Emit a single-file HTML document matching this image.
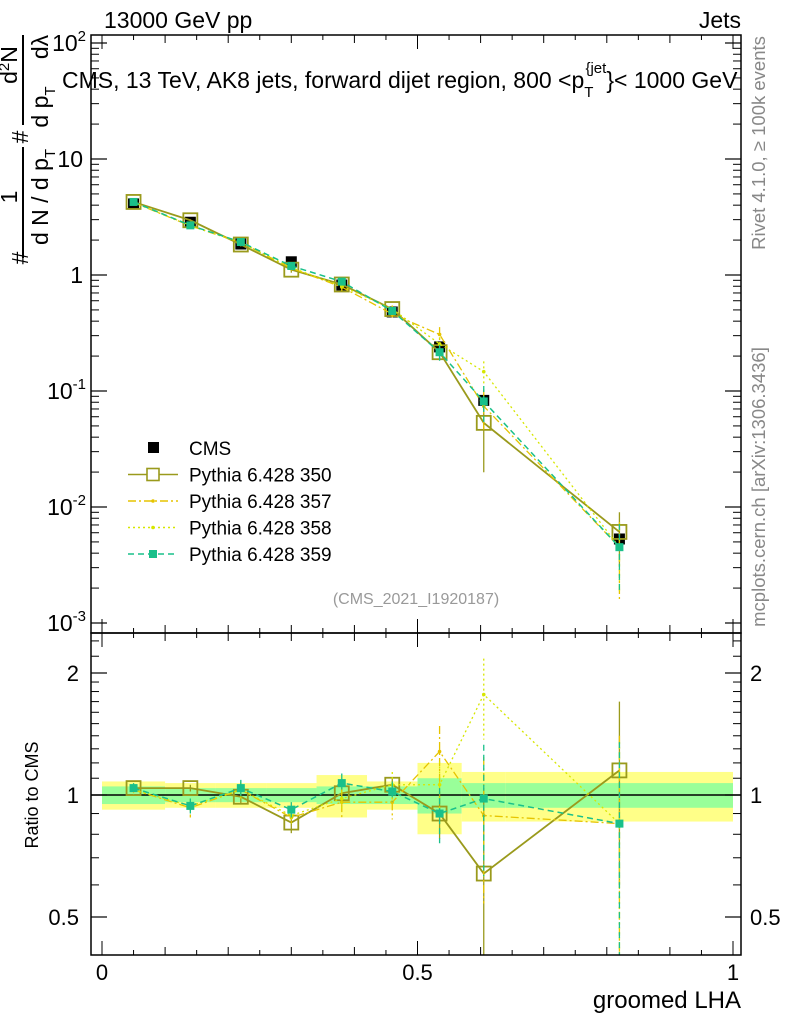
<!DOCTYPE html>
<html><head><meta charset="utf-8">
<style>
body{margin:0;background:#fff;}
svg{display:block;font-family:"Liberation Sans",sans-serif;}
</style></head>
<body>
<svg id="chart" width="786" height="1024" viewBox="0 0 786 1024">
<defs>
<clipPath id="cm"><rect x="91" y="35" width="650" height="598"/></clipPath>
<clipPath id="cr"><rect x="91" y="633" width="650" height="322"/></clipPath>
</defs>
<g id="bands" clip-path="url(#cr)"></g>
<g id="main" clip-path="url(#cm)"></g>
<g id="ratio" clip-path="url(#cr)"></g>
<g id="axes"></g>
<text x="104" y="28" font-size="23">13000 GeV pp</text>
<text x="741" y="28" font-size="23" text-anchor="end">Jets</text>
<text x="62" y="88" font-size="23">CMS, 13 TeV, AK8 jets, forward dijet region, 800 &lt;p<tspan font-size="15" dy="9">T</tspan><tspan font-size="15" dy="-24" dx="-8">{jet</tspan><tspan dy="15">}&lt; 1000 GeV</tspan></text>
<g font-size="23">
<text transform="translate(28,258) rotate(-90)" text-anchor="middle">#</text>
<text transform="translate(17,197) rotate(-90)" text-anchor="middle">1</text>
<line x1="23" y1="258" x2="23" y2="147" stroke="#000" stroke-width="2"/>
<text transform="translate(48,197) rotate(-90)" text-anchor="middle">d N / d p<tspan font-size="15" dy="7">T</tspan></text>
<text transform="translate(28,137) rotate(-90)" text-anchor="middle">#</text>
<line x1="23" y1="125" x2="23" y2="35" stroke="#000" stroke-width="2"/>
<text transform="translate(48,107) rotate(-90)" text-anchor="middle">d p<tspan font-size="15" dy="7">T</tspan></text>
<text transform="translate(17,65) rotate(-90)" text-anchor="middle">d<tspan font-size="15" dy="-8">2</tspan><tspan dy="8">N</tspan></text>
<text transform="translate(48,47) rotate(-90)" text-anchor="middle">dλ</text>
</g>
<text transform="translate(38,795) rotate(-90)" font-size="18" text-anchor="middle">Ratio to CMS</text>
<text x="741" y="1008" font-size="24" text-anchor="end">groomed LHA</text>
<text transform="translate(765,143) rotate(-90)" font-size="18.5" fill="#888" text-anchor="middle">Rivet 4.1.0, ≥ 100k events</text>
<text transform="translate(765,487) rotate(-90)" font-size="18.5" fill="#888" text-anchor="middle">mcplots.cern.ch [arXiv:1306.3436]</text>
<text x="416" y="604" font-size="16" fill="#999" text-anchor="middle">(CMS_2021_I1920187)</text>
<g id="legend"></g>
</svg>
<script>
const binEdges=[0,0.1,0.18,0.26,0.34,0.42,0.5,0.57,0.64,1.0];
const cmsValues=[4.1,2.85,1.85,1.3,0.82,0.48,0.24,0.083,0.0053];
const bandYellow=[0.08,0.07,0.07,0.07,0.12,0.08,0.2,0.14,0.14];
const bandGreen=[0.05,0.04,0.04,0.04,0.05,0.05,0.1,0.07,0.07];
const ratio350=[1.04,1.04,0.99,0.855,1.01,1.06,0.90,0.64,1.15];
const ratio357=[1.03,0.93,1.03,0.88,0.96,0.96,1.28,0.89,0.85];
const ratio358=[1.03,0.94,1.03,0.89,0.98,1.06,1.06,1.77,0.85];
const ratio359=[1.04,0.94,1.04,0.92,1.07,1.02,0.90,0.98,0.85];
const err350=[0.02,0.02,0.04,0.05,0.03,0.04,0.12,0.4,0.55];
const err357=[0.03,0.05,0.05,0.04,0.08,0.09,0.2,0.35,0.55];
const err358=[0.03,0.04,0.05,0.04,0.07,0.08,0.15,0.4,0.5];
const err359=[0.03,0.04,0.05,0.04,0.06,0.06,0.14,0.35,0.5];
const mainTicks=[2,1,0,-1,-2,-3];
const ratioTicks=[0.5,1,2];
const xTicks=[0,0.5,1];

const NS="http://www.w3.org/2000/svg";
const X=v=>102+v*631;
const Ym=v=>43+(2-Math.log10(v))*116;
const Yr=v=>795-Math.log2(v)*122;
function mk(p,tag,a){const e=document.createElementNS(NS,tag);for(const k in a)e.setAttribute(k,a[k]);p.appendChild(e);return e;}
const gMain=document.getElementById('main'),gRatio=document.getElementById('ratio'),gBands=document.getElementById('bands'),gAx=document.getElementById('axes'),gLeg=document.getElementById('legend');
const centers=cmsValues.map((_,i)=>(binEdges[i]+binEdges[i+1])/2);

cmsValues.forEach((_,i)=>{
 const x0=X(binEdges[i]),x1=X(binEdges[i+1]);
 let r=mk(gBands,'rect',{x:x0,y:Yr(1+bandYellow[i]),width:x1-x0,height:Yr(1-bandYellow[i])-Yr(1+bandYellow[i]),fill:'#ffff88'});
 
 
 r=mk(gBands,'rect',{x:x0,y:Yr(1+bandGreen[i]),width:x1-x0,height:Yr(1-bandGreen[i])-Yr(1+bandGreen[i]),fill:'#99ff99'});
 
 
});
let l=mk(gRatio,'line',{x1:91,x2:741,y1:Yr(1),y2:Yr(1),stroke:'#000','stroke-width':1.5});



cmsValues.forEach((v,i)=>{
 const p=mk(gMain,'rect',{x:X(centers[i])-5.5,y:Ym(v)-5.5,width:11,height:11,fill:'#000'});
 
 
});

const series=[
 {n:'350',r:ratio350,e:err350,c:'#9a9a1c',dash:'',mark:'open',w:1.8},
 {n:'357',r:ratio357,e:err357,c:'#e6c400',dash:'8,3,2,3',mark:'dot',w:1.3},
 {n:'358',r:ratio358,e:err358,c:'#d6e600',dash:'2,3',mark:'dot',w:1.3},
 {n:'359',r:ratio359,e:err359,c:'#19c08a',dash:'6,4',mark:'fill',w:1.5}
];
series.forEach(s=>{
 [[gMain,(i)=>Ym(cmsValues[i]*s.r[i]),(i,d)=>Ym(Math.max(1e-5,cmsValues[i]*(s.r[i]+d*s.e[i])))],
  [gRatio,(i)=>Yr(s.r[i]),(i,d)=>Yr(Math.max(0.01,s.r[i]+d*s.e[i]))]].forEach(([g,fy,fe])=>{
  const grp=mk(g,'g',{});
  
  
  const pts=s.r.map((_,i)=>X(centers[i])+','+fy(i)).join(' ');
  const pl=mk(grp,'polyline',{points:pts,fill:'none',stroke:s.c,'stroke-width':s.w,'stroke-dasharray':s.dash});
  
  
  s.r.forEach((_,i)=>{
   const x=X(centers[i]);
   const eb=mk(grp,'line',{x1:x,x2:x,y1:fe(i,1),y2:fe(i,-1),stroke:s.c,'stroke-width':1.3,'stroke-dasharray':s.dash});
   
   
   let m;
   if(s.mark==='open')m=mk(grp,'rect',{x:x-7,y:fy(i)-7,width:14,height:14,fill:'none',stroke:s.c,'stroke-width':1.8});
   else if(s.mark==='fill')m=mk(grp,'rect',{x:x-4,y:fy(i)-4,width:8,height:8,fill:s.c});
   else m=mk(grp,'circle',{cx:x,cy:fy(i),r:1.8,fill:s.c});
   
   
  });
 });
});

[[91,35,650,598],[91,633,650,322]].forEach(f=>{
 const r=mk(gAx,'rect',{x:f[0],y:f[1],width:f[2],height:f[3],fill:'none',stroke:'#000','stroke-width':1.5});
 
 
});
mainTicks.forEach(t=>{
 const y=Ym(Math.pow(10,t));
 mk(gAx,'line',{x1:91,x2:107,y1:y,y2:y,stroke:'#000','stroke-width':1.2});
 mk(gAx,'line',{x1:741,x2:725,y1:y,y2:y,stroke:'#000','stroke-width':1.2});
 const tx=mk(gAx,'text',{x:t===0||t===1?83:86,y:y+8,'font-size':23,'text-anchor':'end'});
 
 
 if(t===0)tx.textContent='1';else if(t===1)tx.textContent='10';
 else{tx.textContent='10';const sp=mk(tx,'tspan',{dy:-10,'font-size':15});sp.textContent=String(t);}
 for(let k=2;k<=9;k++){const v=Math.pow(10,t)*k,yy=Ym(v);if(yy<35||yy>633)continue;
  mk(gAx,'line',{x1:91,x2:99,y1:yy,y2:yy,stroke:'#000'});mk(gAx,'line',{x1:741,x2:733,y1:yy,y2:yy,stroke:'#000'});}
});
ratioTicks.forEach(t=>{
 const y=Yr(t);
 mk(gAx,'line',{x1:91,x2:107,y1:y,y2:y,stroke:'#000','stroke-width':1.2});
 mk(gAx,'line',{x1:741,x2:725,y1:y,y2:y,stroke:'#000','stroke-width':1.2});
 const a=mk(gAx,'text',{x:79,y:y+8,'font-size':22,'text-anchor':'end'});a.textContent=String(t);
 
 
 const b=mk(gAx,'text',{x:750,y:y+8,'font-size':22});b.textContent=String(t);
 
 
});
[0.6,0.7,0.8,0.9,1.1,1.2,1.3,1.4,1.5,1.6,1.7,1.8,1.9,2.2,2.4].forEach(v=>{const y=Yr(v);
 mk(gAx,'line',{x1:91,x2:99,y1:y,y2:y,stroke:'#000'});mk(gAx,'line',{x1:741,x2:733,y1:y,y2:y,stroke:'#000'});});
for(let k=0;k<=20;k++){const v=k*0.05,x=X(v),len=k%10===0?14:(k%2===0?8:5);
 mk(gAx,'line',{x1:x,x2:x,y1:955,y2:955-len,stroke:'#000'});
 mk(gAx,'line',{x1:x,x2:x,y1:633,y2:633+len,stroke:'#000'});
 mk(gAx,'line',{x1:x,x2:x,y1:633,y2:633-len,stroke:'#000'});
 mk(gAx,'line',{x1:x,x2:x,y1:35,y2:35+len,stroke:'#000'});}
xTicks.forEach(t=>{const a=mk(gAx,'text',{x:X(t),y:980,'font-size':22,'text-anchor':'middle'});a.textContent=String(t);
 
 });

const legItems=[['CMS','#000','','cms'],['Pythia 6.428 350','#9a9a1c','','open'],['Pythia 6.428 357','#e6c400','8,3,2,3','dot'],['Pythia 6.428 358','#d6e600','2,3','dot'],['Pythia 6.428 359','#19c08a','6,4','fill']];
legItems.forEach((it,i)=>{
 const y=448+i*26.5,g=mk(gLeg,'g',{});
 
 
 if(it[3]==='cms')mk(g,'rect',{x:148,y:y-6,width:11,height:11,fill:'#000'});
 else{mk(g,'line',{x1:128,x2:178,y1:y,y2:y,stroke:it[1],'stroke-width':1.5,'stroke-dasharray':it[2]});
  if(it[3]==='open')mk(g,'rect',{x:147,y:y-6,width:12,height:12,fill:'#fff',stroke:it[1],'stroke-width':1.6});
  else if(it[3]==='fill')mk(g,'rect',{x:149,y:y-4,width:8,height:8,fill:it[1]});
  else mk(g,'circle',{cx:153,cy:y,r:1.8,fill:it[1]});}
 const t=mk(g,'text',{x:189,y:y+7,'font-size':19});t.textContent=it[0];
});
</script>
</body></html>
